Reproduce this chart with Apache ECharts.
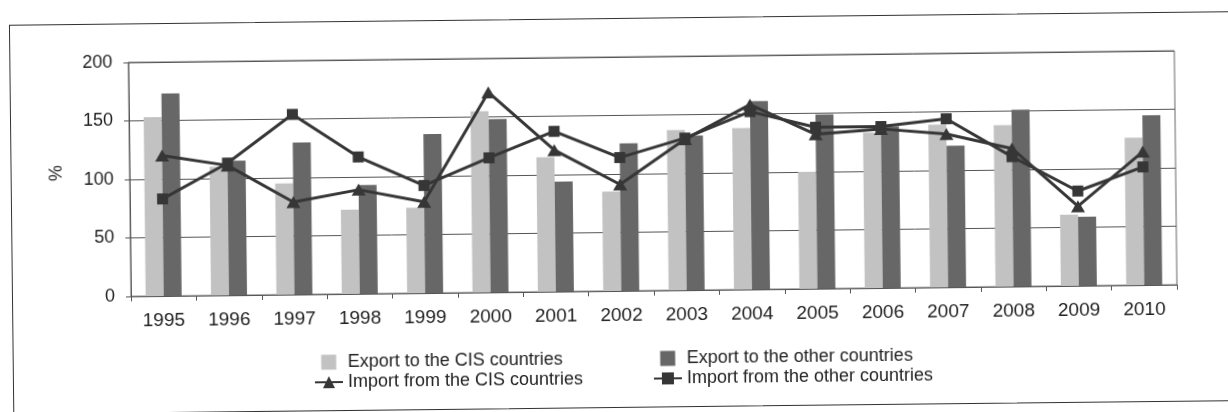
<!DOCTYPE html>
<html>
<head>
<meta charset="utf-8">
<script src="https://cdn.jsdelivr.net/npm/echarts@6/dist/echarts.min.js"></script>
<style>
  html, body { margin: 0; padding: 0; background: #fff; }
  #page { position: relative; width: 1228px; height: 412px; overflow: hidden; background: #fff; }
  #sheet { position: absolute; left: 0; top: 0; width: 1228px; height: 412px; transform: rotate(-0.64deg); transform-origin: 614px 206px; }
  #frame { position: absolute; left: 11px; top: 18px; width: 1240px; height: 390px; border: 1.5px solid #333; box-sizing: border-box; }
  #chart { position: absolute; left: 0; top: 0; width: 1228px; height: 412px; }
</style>
</head>
<body>
<div id="page">
  <div id="sheet">
    <div id="frame"></div>
    <div id="chart"></div>
  </div>
</div>
<script>
// Years on the category axis
const years = ['1995', '1996', '1997', '1998', '1999', '2000', '2001', '2002',
               '2003', '2004', '2005', '2006', '2007', '2008', '2009', '2010'];

// Value axis ticks, %
const yTicks = [0, 50, 100, 150, 200];

// Export, % of previous year
const exportCIS   = [153, 110, 95, 72, 73, 155, 115, 85, 137, 138, 100, 133, 139, 138, 61, 126];
const exportOther = [173, 115, 130, 93, 136, 148, 94, 126, 132, 161, 149, 138, 121, 151, 59, 145];

// Import, % of previous year
const importCIS   = [120, 111, 79, 89, 78, 171, 121, 91, 129, 158, 132, 136, 131, 118, 68, 114];
const importOther = [83, 113, 154, 117, 92, 115, 137, 114, 130, 152, 138, 138, 144, 111, 81, 101];

const FONT = 'Liberation Sans';
const TEXT = '#222';
const LINE_COLOR = '#363636';

const chart = echarts.init(document.getElementById('chart'), null, { renderer: 'canvas' });

chart.setOption({
  animation: false,
  backgroundColor: 'transparent',
  textStyle: { fontFamily: FONT },
  grid: {
    left: 130, right: 52, top: 57, height: 234,
    show: true, borderColor: '#666', borderWidth: 1
  },
  xAxis: {
    type: 'category',
    data: years,
    boundaryGap: true,
    axisLine: { lineStyle: { color: '#555', width: 1 } },
    axisTick: { show: true, length: 5, inside: false, alignWithLabel: false, lineStyle: { color: '#555' } },
    axisLabel: { color: TEXT, fontSize: 19, fontFamily: FONT, margin: 15 },
    splitLine: { show: false }
  },
  yAxis: {
    type: 'value',
    min: yTicks[0],
    max: yTicks[yTicks.length - 1],
    interval: yTicks[1] - yTicks[0],
    axisLine: { show: true, lineStyle: { color: '#555', width: 1 } },
    axisTick: { show: true, length: 5, lineStyle: { color: '#555' } },
    axisLabel: { color: TEXT, fontSize: 18, fontFamily: FONT, margin: 16 },
    splitLine: { show: true, lineStyle: { color: '#555', width: 1 } }
  },
  graphic: [{
    type: 'text',
    x: 57, y: 167,
    rotation: Math.PI / 2,
    style: { text: '%', fill: TEXT, fontSize: 18, fontFamily: FONT, align: 'center', verticalAlign: 'middle' }
  }],
  legend: [{
    orient: 'vertical',
    left: 307, top: 345,
    itemWidth: 28, itemHeight: 15, itemGap: 2,
    textStyle: { color: TEXT, fontSize: 18, fontFamily: FONT },
    data: [
      { name: 'Export to the CIS countries', icon: 'path://M0,0H10V10H0Z' },
      { name: 'Import from the CIS countries' }
    ]
  }, {
    orient: 'vertical',
    left: 646, top: 345,
    itemWidth: 28, itemHeight: 15, itemGap: 2,
    textStyle: { color: TEXT, fontSize: 18, fontFamily: FONT },
    data: [
      { name: 'Export to the other countries', icon: 'path://M0,0H10V10H0Z' },
      { name: 'Import from the other countries' }
    ]
  }],
  series: [{
    name: 'Export to the CIS countries',
    type: 'bar',
    data: exportCIS,
    barWidth: 18,
    barGap: '0%',
    itemStyle: { color: '#c2c2c2' }
  }, {
    name: 'Export to the other countries',
    type: 'bar',
    data: exportOther,
    barWidth: 18,
    barGap: '0%',
    itemStyle: { color: '#676767' }
  }, {
    name: 'Import from the CIS countries',
    type: 'line',
    data: importCIS,
    symbol: 'triangle',
    symbolSize: [14, 12],
    lineStyle: { color: LINE_COLOR, width: 3 },
    itemStyle: { color: LINE_COLOR },
    z: 3
  }, {
    name: 'Import from the other countries',
    type: 'line',
    data: importOther,
    symbol: 'rect',
    symbolSize: 11,
    lineStyle: { color: LINE_COLOR, width: 3 },
    itemStyle: { color: LINE_COLOR },
    z: 4
  }]
});
</script>
</body>
</html>
